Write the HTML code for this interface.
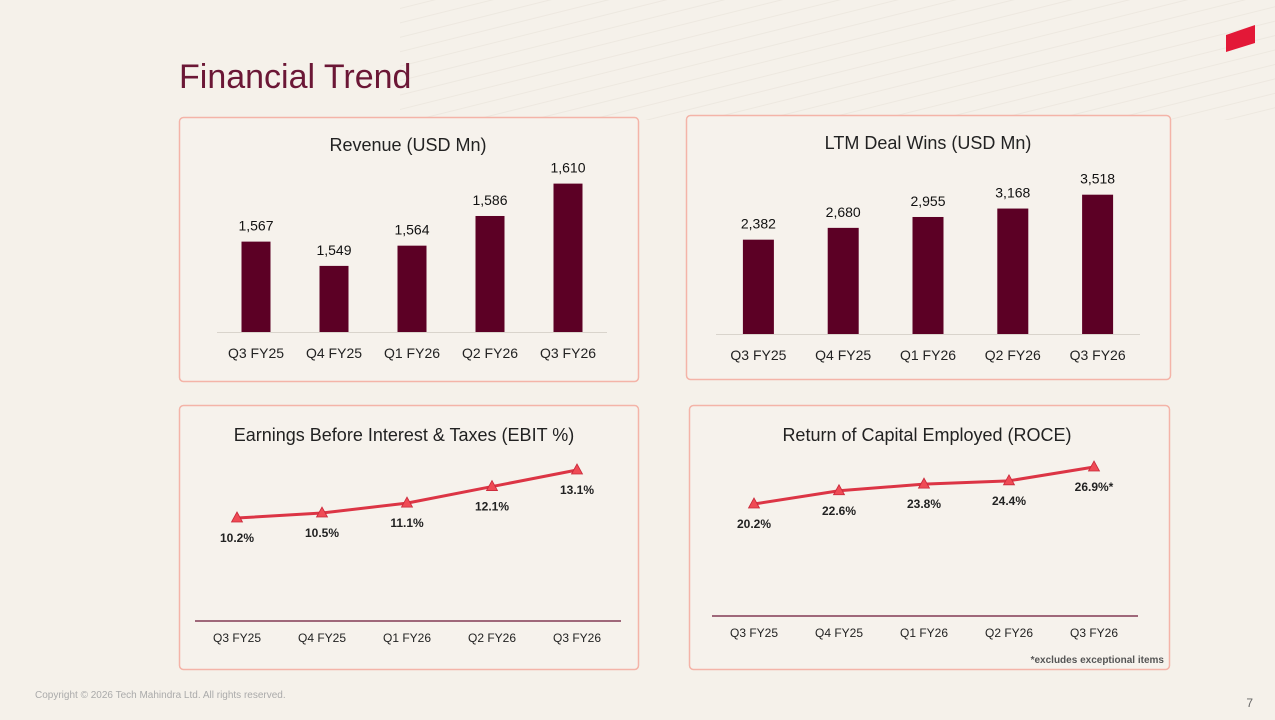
<!DOCTYPE html>
<html><head><meta charset="utf-8"><style>
html,body{margin:0;padding:0}
body{width:1275px;height:720px;overflow:hidden;background:#f5f1ea;font-family:"Liberation Sans",sans-serif;position:relative}
svg{position:absolute;left:0;top:0}
</style></head><body>
<svg id="s" width="1275" height="720">
<defs><pattern id="dl" width="40" height="14" patternUnits="userSpaceOnUse" patternTransform="rotate(-14)"><line x1="0" y1="7" x2="40" y2="7" stroke="#ebe6dd" stroke-width="1"/></pattern></defs>
<rect width="1275" height="720" fill="#f5f1ea"/>
<rect x="400" y="0" width="875" height="120" fill="url(#dl)" opacity="0.8"/>
<polygon points="1226,35 1255,25 1255,43 1226,52" fill="#e31837"/>
<text x="179" y="88" font-size="34" fill="#6b1736">Financial Trend</text>
<rect x="179.5" y="117.5" width="459" height="264" rx="4" fill="#f6f2ec" stroke="#f4b4a8" stroke-width="1.5"/>
<rect x="686.5" y="115.5" width="484" height="264" rx="4" fill="#f6f2ec" stroke="#f4b4a8" stroke-width="1.5"/>
<rect x="179.5" y="405.5" width="459" height="264" rx="4" fill="#f6f2ec" stroke="#f4b4a8" stroke-width="1.5"/>
<rect x="689.5" y="405.5" width="480" height="264" rx="4" fill="#f6f2ec" stroke="#f4b4a8" stroke-width="1.5"/>
<text x="408" y="151" font-size="18" fill="#222" text-anchor="middle">Revenue (USD Mn)</text>
<text x="928" y="149" font-size="18" fill="#222" text-anchor="middle">LTM Deal Wins (USD Mn)</text>
<text x="404" y="441" font-size="18" fill="#222" text-anchor="middle">Earnings Before Interest &amp; Taxes (EBIT %)</text>
<text x="927" y="441" font-size="18" fill="#222" text-anchor="middle">Return of Capital Employed (ROCE)</text>
<text x="1164" y="663" font-size="10" font-weight="bold" fill="#555" text-anchor="end">*excludes exceptional items</text>
<text x="35" y="698" font-size="10" fill="#aaa">Copyright © 2026 Tech Mahindra Ltd. All rights reserved.</text>
<text x="1253" y="707" font-size="12" fill="#666" text-anchor="end">7</text>
<g id="charts"></g>
</svg>
<script>
const categories = ["Q3 FY25","Q4 FY25","Q1 FY26","Q2 FY26","Q3 FY26"];
const revenueValues = [1567,1549,1564,1586,1610];
const revenueLabels = ["1,567","1,549","1,564","1,586","1,610"];
const dealValues = [2382,2680,2955,3168,3518];
const dealLabels = ["2,382","2,680","2,955","3,168","3,518"];
const ebitValues = [10.2,10.5,11.1,12.1,13.1];
const ebitLabels = ["10.2%","10.5%","11.1%","12.1%","13.1%"];
const roceValues = [20.2,22.6,23.8,24.4,26.9];
const roceLabels = ["20.2%","22.6%","23.8%","24.4%","26.9%*"];

const NS="http://www.w3.org/2000/svg";
const G=document.getElementById('charts');
function el(t,a,txt){const e=document.createElementNS(NS,t);for(const k in a)e.setAttribute(k,a[k]);if(txt!==undefined)e.textContent=txt;G.appendChild(e);return e;}

function barChart(vals,labels,x0,x1,base,vmin,scale,bw,name){
  const step=(x1-x0)/vals.length;
  const ax=el('line',{x1:x0,y1:base+0.5,x2:x1,y2:base+0.5,stroke:'#d9d4cc','stroke-width':1});
  
  
  vals.forEach((v,i)=>{
    const cx=x0+step*(i+0.5);
    const y=base-(v-vmin)*scale;
    const r=el('rect',{x:cx-bw/2,y:y,width:bw,height:base-y,fill:'#5c0025'});
    
    
    const t=el('text',{x:cx,y:y-11,'font-size':14,fill:'#111','text-anchor':'middle'},labels[i]);
    
    
    const c=el('text',{x:cx,y:base+26,'font-size':14,fill:'#222','text-anchor':'middle'},categories[i]);
    
    
  });
}
function lineChart(vals,labels,xs,dx,ref,refY,scale,axisY,ax0,ax1,name){
  const a=el('line',{x1:ax0,y1:axisY,x2:ax1,y2:axisY,stroke:'#6b1736','stroke-width':1.2});
  
  
  const pts=vals.map((v,i)=>[xs+dx*i, refY-(v-ref)*scale]);
  const p=el('polyline',{points:pts.map(q=>q.join(',')).join(' '),fill:'none',stroke:'#dc3545','stroke-width':3,'stroke-linejoin':'round'});
  
  
  pts.forEach((q,i)=>{
    const m=el('polygon',{points:`${q[0]},${q[1]-6} ${q[0]-5.5},${q[1]+4} ${q[0]+5.5},${q[1]+4}`,fill:'#ef4b55',stroke:'#c8283a','stroke-width':0.8});
    
    
    const t=el('text',{x:q[0],y:q[1]+24,'font-size':12,'font-weight':'bold',fill:'#222','text-anchor':'middle'},labels[i]);
    
    
    const c=el('text',{x:xs+dx*i,y:axisY+21,'font-size':12,fill:'#222','text-anchor':'middle'},categories[i]);
    
    
  });
}
barChart(revenueValues,revenueLabels,217,607,332,1500,1.349,29,'revenue');
barChart(dealValues,dealLabels,716,1140,334,0,0.0396,31,'deal-wins');
lineChart(ebitValues,ebitLabels,237,85,10.2,518,16.55,621,195,621,'ebit');
lineChart(roceValues,roceLabels,754,85,20.2,504,5.52,616,712,1138,'roce');
</script>
</body></html>
